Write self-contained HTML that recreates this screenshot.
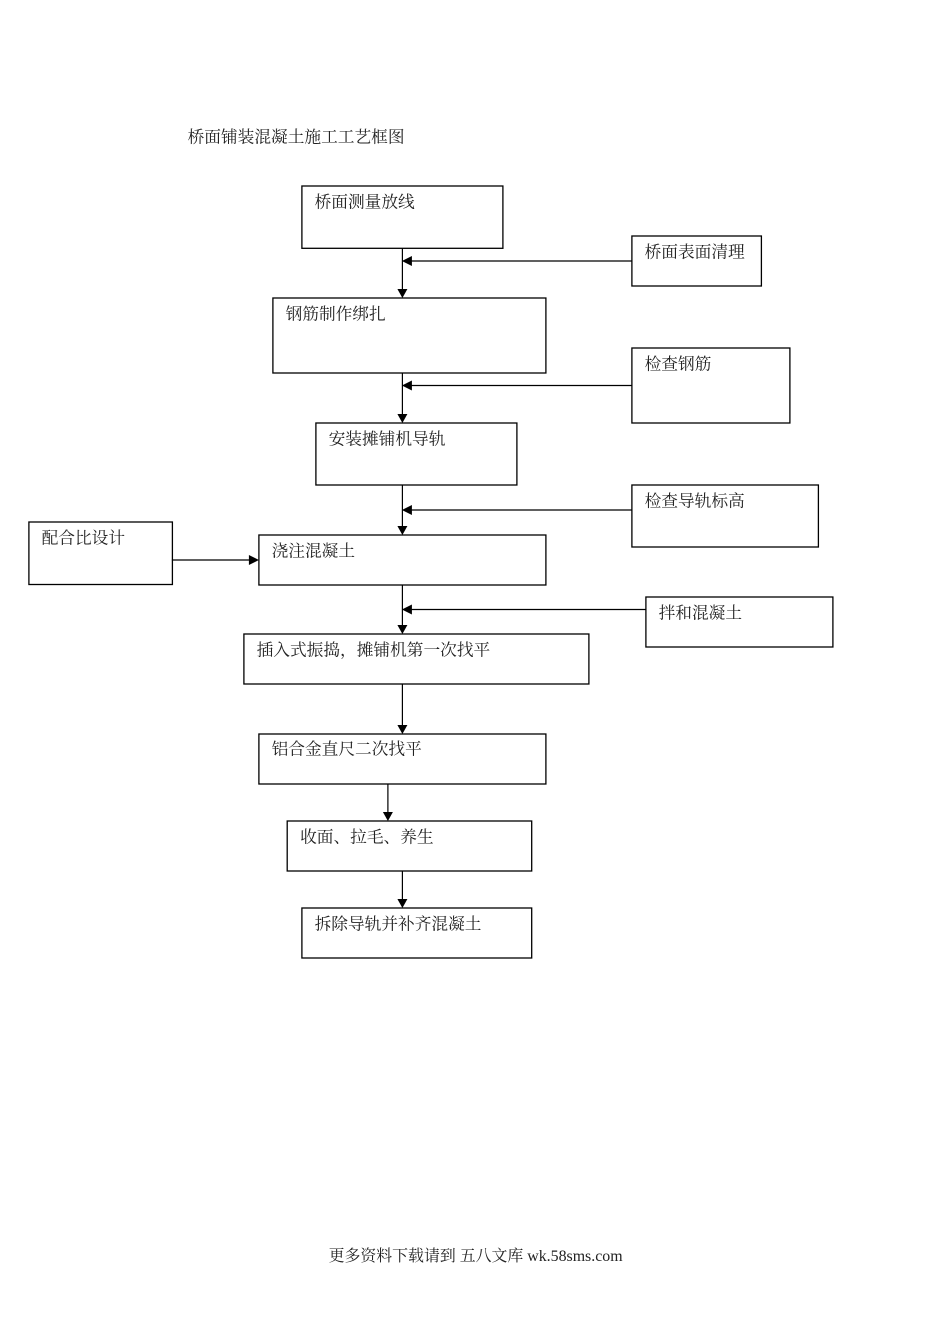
<!DOCTYPE html>
<html><head><meta charset="utf-8">
<style>
html,body{margin:0;padding:0;background:#fff;}
svg{display:block;}
text{font-family:"Liberation Serif","Noto Serif CJK SC",serif;font-size:16.7px;fill:#222;}
text.foot{font-size:15.9px;}
rect{fill:none;stroke:#000;stroke-width:1.3;}
line{stroke:#000;stroke-width:1.2;}
polygon{fill:#000;}
</style></head><body>
<svg width="950" height="1344" viewBox="0 0 950 1344" xmlns="http://www.w3.org/2000/svg">
<g transform="translate(-0.4,0.3)">
<text x="188" y="142">桥面铺装混凝土施工工艺框图</text>
<text x="315" y="207">桥面测量放线</text>
<text x="645" y="257">桥面表面清理</text>
<text x="286" y="319">钢筋制作绑扎</text>
<text x="645" y="369">检查钢筋</text>
<text x="329" y="444">安装摊铺机导轨</text>
<text x="645" y="506">检查导轨标高</text>
<text x="42" y="543">配合比设计</text>
<text x="272" y="556">浇注混凝土</text>
<text x="659" y="618">拌和混凝土</text>
<text x="257" y="655">插入式振捣，摊铺机第一次找平</text>
<text x="272" y="754">铝合金直尺二次找平</text>
<text x="300.500" y="842">收面、拉毛、养生</text>
<text x="315" y="929">拆除导轨并补齐混凝土</text>
<text class="foot" x="329" y="1260.700">更多资料下载请到 五八文库 wk.58sms.com</text>
</g>
<g transform="translate(-0.1,0)">
<rect x="302" y="186" width="201" height="62.300"/>
<rect x="632" y="236" width="129.500" height="50"/>
<rect x="273" y="298" width="273" height="75"/>
<rect x="632" y="348" width="158" height="75"/>
<rect x="316" y="423" width="201" height="62"/>
<rect x="632" y="485" width="186.500" height="62"/>
<rect x="29" y="522" width="143.500" height="62.500"/>
<rect x="259" y="535" width="287" height="50"/>
<rect x="646" y="597" width="187" height="50"/>
<rect x="244" y="634" width="345" height="50"/>
<rect x="259" y="734" width="287" height="50"/>
<rect x="287.300" y="821" width="244.500" height="50"/>
<rect x="302" y="908" width="229.800" height="50"/>

<line x1="402.500" y1="248" x2="402.500" y2="290"/>
<polygon points="397.500,289 407.500,289 402.500,298"/>
<line x1="632" y1="261" x2="411" y2="261"/>
<polygon points="402,261 412,256 412,266"/>

<line x1="402.500" y1="373" x2="402.500" y2="415"/>
<polygon points="397.500,414 407.500,414 402.500,423"/>
<line x1="632" y1="385.500" x2="411" y2="385.500"/>
<polygon points="402,385.500 412,380.500 412,390.500"/>

<line x1="402.500" y1="485" x2="402.500" y2="527"/>
<polygon points="397.500,526 407.500,526 402.500,535"/>
<line x1="632" y1="510" x2="411" y2="510"/>
<polygon points="402,510 412,505 412,515"/>

<line x1="172" y1="560" x2="250" y2="560"/>
<polygon points="259,560 249,555 249,565"/>

<line x1="402.500" y1="585" x2="402.500" y2="626"/>
<polygon points="397.500,625 407.500,625 402.500,634"/>
<line x1="646" y1="609.500" x2="411" y2="609.500"/>
<polygon points="402,609.500 412,604.500 412,614.500"/>

<line x1="402.500" y1="684" x2="402.500" y2="726"/>
<polygon points="397.500,725 407.500,725 402.500,734"/>

<line x1="388" y1="784" x2="388" y2="813"/>
<polygon points="383,812 393,812 388,821"/>

<line x1="402.500" y1="871" x2="402.500" y2="900"/>
<polygon points="397.500,899 407.500,899 402.500,908"/>
</g>
</svg>
</body></html>
